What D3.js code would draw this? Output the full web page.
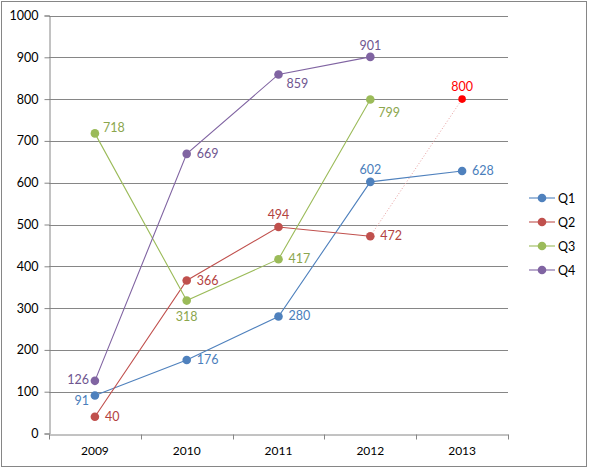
<!DOCTYPE html>
<html>
<head>
<meta charset="utf-8">
<script src="https://cdn.jsdelivr.net/npm/d3@7"></script>
<style>
  body { margin: 0; background: #fff; }
  text { font-family: Lato, "Open Sans", sans-serif; }
</style>
</head>
<body>
<div id="chart"></div>
<script>
// data
var years = ["2009", "2010", "2011", "2012", "2013"];
var seriesNames = ["Q1", "Q2", "Q3", "Q4"];
var q1 = [91, 176, 280, 602, 628];
var q2 = [40, 366, 494, 472, null];
var q3 = [718, 318, 417, 799, null];
var q4 = [126, 669, 859, 901, null];
var forecast = { year: "2013", value: 800 };   // dotted red point after Q2
var yTicks = [0, 100, 200, 300, 400, 500, 600, 700, 800, 900, 1000];

var colors = ["#4F81BD", "#C0504D", "#9BBB59", "#8064A2"];
var labelColors = ["#4A7EBB", "#B3423F", "#8BA64D", "#6F5690"];

// label placement per series/point: [dx, dy, anchor]
var labelPos = [
    [[-6, 10, "end"], [10, 4, "start"], [10, 4, "start"], [0, -8, "middle"], [10, 4, "start"]],
    [[10, 4, "start"], [10, 4, "start"], [0, -8, "middle"], [10, 4, "start"]],
    [[8, -1, "start"], [0, 20, "middle"], [10, 4, "start"], [8, 17, "start"]],
    [[-6, 3, "end"], [10, 4, "start"], [8, 14, "start"], [0, -7, "middle"]]
];

var W = 589, H = 469;
var margin = { top: 15.5, left: 49, right: 81, bottom: 35.5 };

var svg = d3.select("#chart").append("svg")
    .attr("width", W).attr("height", H);

svg.append("rect")
    .attr("x", 1.5).attr("y", 1.5)
    .attr("width", 585).attr("height", 465)
    .attr("fill", "#fff").attr("stroke", "#868686");

var x = d3.scaleBand().domain(years).range([margin.left, W - margin.right]);
var y = d3.scaleLinear().domain([0, 1000]).range([H - margin.bottom, margin.top]);
var cx = function(yr) { return x(yr) + x.bandwidth() / 2; };

// gridlines
svg.selectAll(".grid")
    .data(yTicks.filter(d => d > 0))
    .enter().append("line")
    .attr("x1", margin.left).attr("x2", W - margin.right)
    .attr("y1", d => Math.round(y(d)) + 0.5).attr("y2", d => Math.round(y(d)) + 0.5)
    .attr("stroke", "#868686");

// y axis
var yAxis = svg.append("g")
    .attr("transform", "translate(" + (margin.left + 0.5) + ",0)")
    .call(d3.axisLeft(y).tickValues(yTicks).tickFormat(d3.format("d")).tickSize(5).tickPadding(6));
yAxis.selectAll("path, line").attr("stroke", "#868686");
yAxis.selectAll("text").attr("font-size", 12.5).attr("fill", "#000")
    .style("font-family", "Lato, sans-serif");

// x axis
var xAxis = svg.append("g")
    .attr("transform", "translate(0," + (Math.round(y(0)) + 0.5) + ")")
    .call(d3.axisBottom(x).tickSize(0).tickPadding(12));
xAxis.select("path").attr("stroke", "#868686");
xAxis.selectAll("text").attr("font-size", 12).attr("fill", "#000")
    .style("font-family", "Lato, sans-serif");
svg.selectAll(".xtick")
    .data(years.concat(["end"]))
    .enter().append("line")
    .attr("x1", (d, i) => Math.round(margin.left + i * x.bandwidth()) + 0.5)
    .attr("x2", (d, i) => Math.round(margin.left + i * x.bandwidth()) + 0.5)
    .attr("y1", Math.round(y(0)) + 0.5).attr("y2", Math.round(y(0)) + 5.5)
    .attr("stroke", "#868686");

// forecast dotted segment
var q2Last = { year: years[3], value: q2[3] };
svg.append("line")
    .attr("x1", cx(q2Last.year)).attr("y1", y(q2Last.value))
    .attr("x2", cx(forecast.year)).attr("y2", y(forecast.value))
    .attr("stroke", "#E8A0A0").attr("stroke-width", 1)
    .attr("stroke-dasharray", "1,2");

var allSeries = [q1, q2, q3, q4];
var line = d3.line()
    .defined(d => d.value != null)
    .x(d => cx(d.year)).y(d => y(d.value));

allSeries.forEach(function(vals, s) {
    var pts = vals.map((v, i) => ({ year: years[i], value: v })).filter(d => d.value != null);
    svg.append("path")
        .datum(pts)
        .attr("d", line)
        .attr("fill", "none")
        .attr("stroke", colors[s])
        .attr("stroke-width", 1.1);
    svg.selectAll(".dot" + s)
        .data(pts).enter().append("circle")
        .attr("cx", d => cx(d.year)).attr("cy", d => y(d.value))
        .attr("r", 4.3).attr("fill", colors[s]);
    svg.selectAll(".lab" + s)
        .data(pts).enter().append("text")
        .attr("x", (d, i) => cx(d.year) + labelPos[s][i][0])
        .attr("y", (d, i) => y(d.value) + labelPos[s][i][1])
        .attr("text-anchor", (d, i) => labelPos[s][i][2])
        .attr("font-size", 12.5)
        .attr("fill", labelColors[s])
        .text(d => d.value);
});

// forecast point
svg.append("circle")
    .attr("cx", cx(forecast.year)).attr("cy", y(forecast.value))
    .attr("r", 3.8).attr("fill", "#FF0000");
svg.append("text")
    .attr("x", cx(forecast.year)).attr("y", y(forecast.value) - 8)
    .attr("text-anchor", "middle")
    .attr("font-size", 12.5)
    .attr("fill", "#FF0000")
    .text(forecast.value);

// legend
var legend = svg.selectAll(".legend")
    .data(seriesNames).enter().append("g")
    .attr("transform", (d, i) => "translate(529," + (198 + i * 24) + ")");
legend.append("line")
    .attr("x1", 0).attr("x2", 26).attr("y1", 0).attr("y2", 0)
    .attr("stroke", (d, i) => colors[i]).attr("stroke-width", 1.1);
legend.append("circle")
    .attr("cx", 13).attr("cy", 0).attr("r", 4.3)
    .attr("fill", (d, i) => colors[i]);
legend.append("text")
    .attr("x", 29).attr("y", 4.5)
    .attr("font-size", 12.5).attr("fill", "#000")
    .text(d => d);
</script>
</body>
</html>
